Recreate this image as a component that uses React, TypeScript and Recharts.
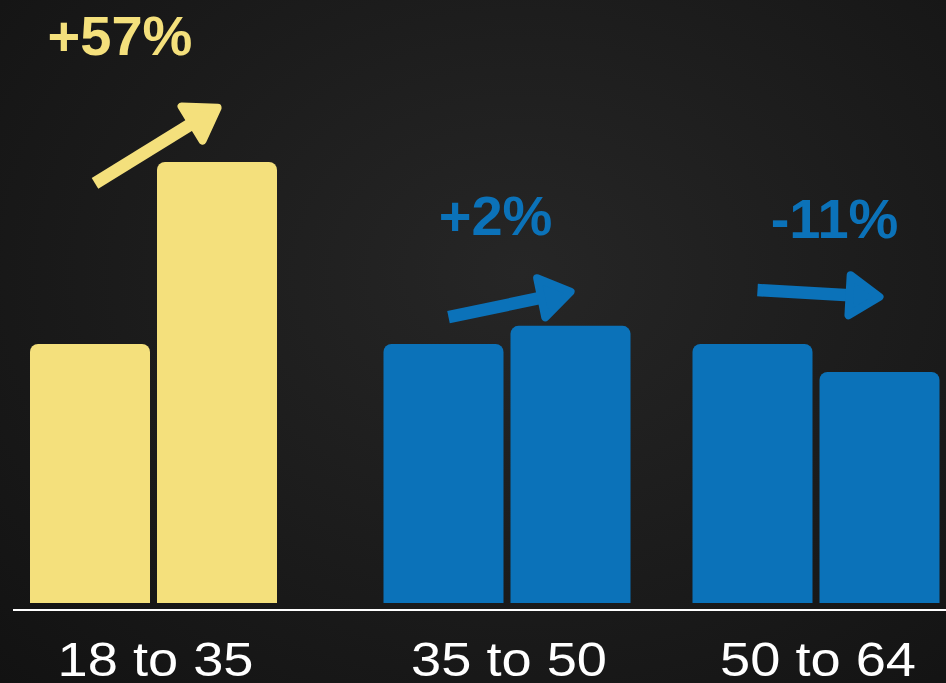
import React from 'react'
import { BarChart, Bar, XAxis, YAxis, Cell, LabelList } from 'recharts'

const groups = ['18 to 35', '35 to 50', '50 to 64']
const before = [100, 100, 100]
const after = [170.3, 107, 89.2]
const change = ['+57%', '+2%', '-11%']
// arrow ends and label baseline, in value units
const arrowFrom = [162, 110.4, 120.8]
const arrowTo = [192, 120.5, 118.1]
const labelAt = [211.5, 142, 141]

// layout (not data): group centres along the x range and label nudges
const groupCenters = [153.5, 507, 816]
const labelShift = [-37, -15, 15]

const YELLOW = '#f4e07c'
const BLUE = '#0b72b9'
const colors = [YELLOW, BLUE, BLUE]

const rows = groups.map((g, i) => ({
  name: g,
  pos: groupCenters[i],
  before: before[i],
  after: after[i],
}))

// the reference face is a wide grotesque, so stretch Liberation a bit
const AgeTick = ({ x, y, index }: any) => (
  <text
    transform={`translate(${x + 2}, ${y + 66}) scale(1.13, 1)`}
    textAnchor="middle"
    fill="#ffffff"
    fontSize={48}
    fontFamily="'Liberation Sans', Arial, sans-serif"
  >
    {groups[index]}
  </text>
)

const ArrowLabel = (props: any) => {
  const { x, y, height, value, index } = props
  if (value == null) return null
  const k = height / value
  const zero = y + height
  const color = colors[index]
  const tx = x - 62
  const ty = zero - arrowFrom[index] * k
  const hx0 = x + 64
  const hy0 = zero - arrowTo[index] * k
  const len = Math.hypot(hx0 - tx, hy0 - ty)
  const ux = (hx0 - tx) / len
  const uy = (hy0 - ty) / len
  // round join pushes the outline out by half the stroke
  const hx = hx0 - ux * 4
  const hy = hy0 - uy * 4
  const headLen = 30
  const headHalf = 20
  const bx = hx - ux * headLen
  const by = hy - uy * headLen
  const head = [
    [hx, hy],
    [bx - uy * headHalf, by + ux * headHalf],
    [bx + uy * headHalf, by - ux * headHalf],
  ]
    .map((p) => p.join(','))
    .join(' ')
  return (
    <g>
      <line x1={tx} y1={ty} x2={bx + ux * 4} y2={by + uy * 4} stroke={color} strokeWidth={12.5} />
      <polygon points={head} fill={color} stroke={color} strokeWidth={8} strokeLinejoin="round" />
      <text
        x={x + labelShift[index]}
        y={zero - labelAt[index] * k}
        textAnchor="middle"
        fill={color}
        fontSize={56}
        fontWeight={700}
        fontFamily="'Liberation Sans', Arial, sans-serif"
      >
        {change[index]}
      </text>
    </g>
  )
}

export default function App() {
  return (
    <div
      style={{
        position: 'absolute',
        left: 0,
        top: 0,
        width: 946,
        height: 683,
        background: 'radial-gradient(ellipse at 55% 40%, #262626 0%, #1b1b1b 55%, #121212 100%)',
      }}
    >
      <BarChart
        width={946}
        height={683}
        data={rows}
        margin={{ top: 0, right: 0, left: 13, bottom: 0 }}
        barGap={7}
      >
        <XAxis
          type="number"
          dataKey="pos"
          domain={[13, 946]}
          ticks={groupCenters}
          allowDataOverflow
          height={73}
          tickLine={false}
          tickSize={0}
          tickMargin={0}
          axisLine={{ stroke: '#ffffff', strokeWidth: 2 }}
          tick={<AgeTick />}
          interval={0}
        />
        <YAxis hide domain={[-2.7, 232.8]} allowDataOverflow />
        <Bar dataKey="before" barSize={120} radius={[8, 8, 0, 0]} isAnimationActive={false}>
          {rows.map((r, i) => (
            <Cell key={r.name} fill={colors[i]} />
          ))}
        </Bar>
        <Bar dataKey="after" barSize={120} radius={[8, 8, 0, 0]} isAnimationActive={false}>
          {rows.map((r, i) => (
            <Cell key={r.name} fill={colors[i]} />
          ))}
          <LabelList dataKey="after" content={<ArrowLabel />} />
        </Bar>
      </BarChart>
    </div>
  )
}
